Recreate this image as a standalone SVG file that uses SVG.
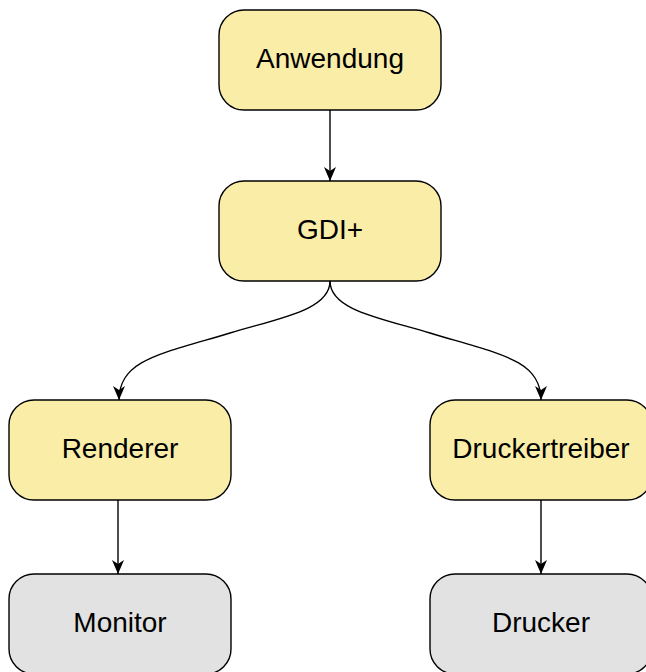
<svg xmlns="http://www.w3.org/2000/svg" width="646" height="672" viewBox="0 0 646 672">
  <style>
    .box { stroke: #000; stroke-width: 1.4; }
    .sw { fill: #f9eda8; }
    .hw { fill: #e1e2e1; }
    .lbl { font-family: "Liberation Sans", Arial, sans-serif; font-size: 28px; fill: #000; text-anchor: middle; }
    .edge { fill: none; stroke: #000; stroke-width: 1.4; }
  </style>
  <defs>
    <marker id="arrow" viewBox="0 0 14 12" refX="14" refY="6" markerWidth="14" markerHeight="12" markerUnits="userSpaceOnUse" orient="auto">
      <path d="M0,0 L14,6 L0,12 L4,6 Z" fill="#000"/>
    </marker>
  </defs>
  <rect width="646" height="672" fill="#fff"/>

  <g id="connectors">
    <path class="edge" d="M330,110 L330,181" marker-end="url(#arrow)"/>
    <path class="edge" d="M330,281 C330,310 280,318 230,333 C160,354 119,360 119,400" marker-end="url(#arrow)"/>
    <path class="edge" d="M330,281 C330,310 380,318 430,333 C500,354 541,360 541,400" marker-end="url(#arrow)"/>
    <path class="edge" d="M118,500 L118,574" marker-end="url(#arrow)"/>
    <path class="edge" d="M541,500 L541,574" marker-end="url(#arrow)"/>
  </g>

  <g id="anwendung">
    <rect class="box sw" x="219" y="10" width="222" height="100" rx="25"/>
    <text class="lbl" x="330" y="67.5">Anwendung</text>
  </g>
  <g id="gdiplus">
    <rect class="box sw" x="219" y="181" width="222" height="100" rx="25"/>
    <text class="lbl" x="330" y="238.5">GDI+</text>
  </g>
  <g id="renderer">
    <rect class="box sw" x="9" y="400" width="222" height="100" rx="25"/>
    <text class="lbl" x="120" y="458">Renderer</text>
  </g>
  <g id="druckertreiber">
    <rect class="box sw" x="430" y="400" width="222" height="100" rx="25"/>
    <text class="lbl" x="541" y="458">Druckertreiber</text>
  </g>
  <g id="monitor">
    <rect class="box hw" x="9" y="574" width="222" height="100" rx="25"/>
    <text class="lbl" x="120" y="632">Monitor</text>
  </g>
  <g id="drucker">
    <rect class="box hw" x="430" y="574" width="222" height="100" rx="25"/>
    <text class="lbl" x="541" y="632">Drucker</text>
  </g>
</svg>
